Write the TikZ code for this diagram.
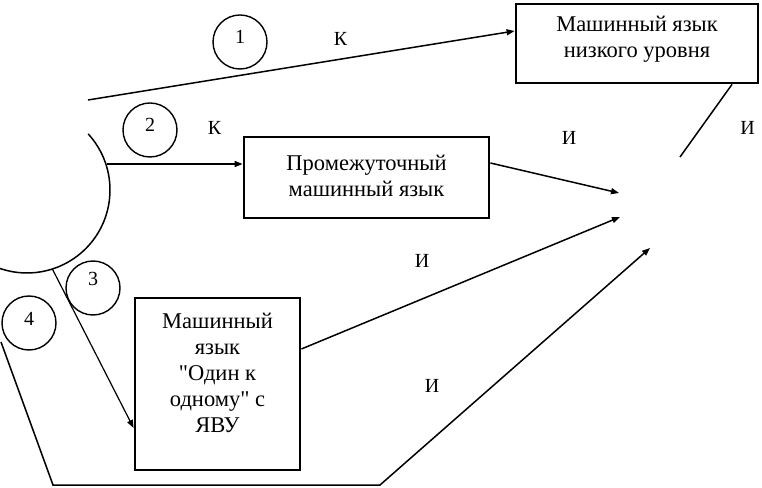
\documentclass[tikz,border=0pt]{standalone}
\usepackage{fontspec}
\newfontfamily\rufont{Liberation Serif}
\usetikzlibrary{arrows.meta,calc}
\begin{document}
\begin{tikzpicture}[x=1pt,y=1pt,
  box/.style={draw, line width=2.8pt, inner sep=0pt},
  btext/.style={font=\rufont\fontsize{22.5}{26}\selectfont, align=center, inner sep=0pt},
  num/.style={draw, circle, line width=1.4pt, minimum size=54pt, inner sep=0pt},
  lab/.style={font=\rufont\fontsize{20}{24}\selectfont, inner sep=0pt},
  con/.style={line width=1.5pt},
  arr/.style={con, -{Triangle[length=8pt,width=6pt]}}]
\useasboundingbox (0,0) rectangle (762,487);

% boxes
\node[box, minimum width=242pt, minimum height=79pt] (b1) at (637,443.5) {};
\node[btext] (t1) at (637,448) {Машинный язык\\низкого уровня};
\node[box, minimum width=245pt, minimum height=81pt] (b2) at (366.5,309.5) {};
\node[btext] (t2) at (366.5,311) {Промежуточный\\машинный язык};
\node[box, minimum width=165pt, minimum height=172pt] (b3) at (217.5,103) {};
\node[btext] (t3) at (217.5,114) {Машинный\\язык\\"Один к\\одному" с\\ЯВУ};

% numbered circles
\node[num] (c1) at (240,445) {};
\node[lab] (d1) at (240,450) {1};
\node[num] (c2) at (150,357) {};
\node[lab] (d2) at (150,362) {2};
\node[num] (c3) at (93,199) {};
\node[lab] (d3) at (93,208) {3};
\node[num] (c4) at (29,164) {};
\node[lab] (d4) at (29,168) {4};

% labels
\node[lab] (k1) at (340.5,448.5) {К};
\node[lab] (k2) at (214.5,359.5) {К};
\node[lab] (i1) at (569,349.5) {И};
\node[lab] (i2) at (747.5,359.5) {И};
\node[lab] (i3) at (422,226.5) {И};
\node[lab] (i4) at (432,101.5) {И};

% source arc
\coordinate (arcc) at (27,297);
\draw[con] (arcc) ++(42.5:83) arc[start angle=42.5, end angle=-112, radius=83];

% free ends
\coordinate (s1) at (88,387);
\coordinate (s2) at (107,323);
\coordinate (s3) at ($(arcc)+(-72.2:83)$);
\coordinate (s4) at (1,145);
\coordinate (k4a) at (53,2);
\coordinate (k4b) at (380,2);
\coordinate (e4) at (650,239);
\coordinate (e5) at (620,270);
\coordinate (e6) at (619,294);
\coordinate (e7) at (680,330);

% connectors
\draw[arr] (s1) -- ([yshift=12.5pt]b1.west);
\draw[arr] (s2) -- ([yshift=13.5pt]b2.west);
\draw[arr, line width=1.2pt] (s3) -- ([yshift=-44pt]b3.west);
\draw[arr] (s4) -- (k4a) -- (k4b) -- (e4);
\draw[arr] ([yshift=35pt]b3.east) -- (e5);
\draw[arr] ([yshift=14.5pt]b2.east) -- (e6);
\draw[con] ([xshift=95pt]b1.south) -- (e7);
\end{tikzpicture}
\end{document}
